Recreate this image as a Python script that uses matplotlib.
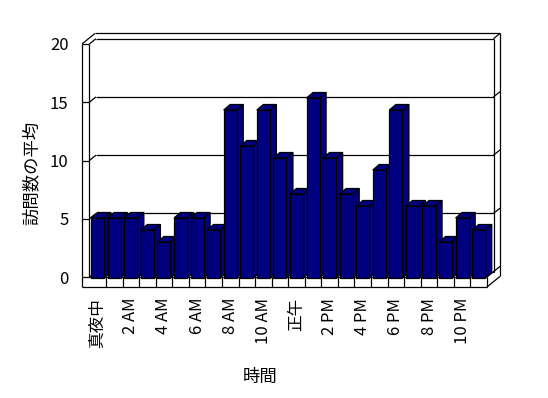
import matplotlib
matplotlib.use("Agg")
import matplotlib.pyplot as plt
from matplotlib.patches import Polygon

plt.rcParams['font.family'] = ['Noto Sans CJK JP', 'DejaVu Sans']

# ---- data ----
values = [5, 5, 5, 4, 3, 5, 5, 4, 14, 11, 14, 10, 7, 15, 10, 7, 6, 9, 14, 6, 6, 3, 5, 4]
tick_labels = ["真夜中", "2 AM", "4 AM", "6 AM", "8 AM", "10 AM", "正午",
               "2 PM", "4 PM", "6 PM", "8 PM", "10 PM"]
y_ticks = [0, 5, 10, 15, 20]
y_label = "訪問数の平均"
x_label = "時間"

W, H = 548, 398
fig = plt.figure(figsize=(W / 100, H / 100), dpi=100)

# front plane of the box (pixel geometry)
x0p, x1p = 89.4, 487.0
ytop, ybot = 44.0, 277.0
n = len(values)
ymax = 20

ax = fig.add_axes([x0p / W, (H - ybot) / H, (x1p - x0p) / W, (ybot - ytop) / H])
ax.set_xlim(0, n)
ax.set_ylim(0, ymax)
for s in ax.spines.values():
    s.set_visible(False)
ax.set_facecolor('none')

sx = n / (x1p - x0p)
sy = ymax / (ybot - ytop)
Dx, Dy = 6.5 * sx, 5.3 * sy          # depth offset
Wx = 7.4 * sx                        # wall thickness
F = 10 * sy                          # floor thickness

lw = 0.9
kw = dict(color='black', lw=lw, clip_on=False, solid_capstyle='butt')

def L(xs, ys, z=2):
    ax.plot(xs, ys, zorder=z, **kw)

# back wall front face
L([Dx, n + Dx], [ymax + Dy, ymax + Dy])
L([-Wx + 2 * Dx, n + 2 * Dx], [ymax + 2 * Dy, ymax + 2 * Dy])
L([n + Dx, n + 2 * Dx], [ymax + Dy, ymax + 2 * Dy])
L([n + Dx, n + Dx], [Dy, ymax + Dy])
L([n + 2 * Dx, n + 2 * Dx], [-F + 2 * Dy, ymax + 2 * Dy])
for v in y_ticks:
    if 0 < v < ymax:
        L([Dx, n + Dx], [v + Dy, v + Dy])
        L([n + Dx, n + 2 * Dx], [v + Dy, v + 2 * Dy])
    # diagonal on left wall inner face
    L([0, Dx], [v, v + Dy])
    # tick across wall front face
    L([-Wx, 0], [v, v])

# left wall
L([-Wx, -Wx], [-F, ymax])
L([0, 0], [0, ymax])
L([-Wx, -Wx + 2 * Dx], [ymax, ymax + 2 * Dy])
# floor
L([Dx, n + Dx], [Dy, Dy])
L([-Wx, n], [-F, -F])
L([0, n], [0, 0])
L([n, n], [-F, 0])
L([n, n + 2 * Dx], [0, 2 * Dy])
L([n, n + 2 * Dx], [-F, -F + 2 * Dy])
for i in range(1, n):
    L([i, i], [-F, 0])

ax.set_xticks([i + 0.5 for i in range(0, n, 2)])
ax.set_xticklabels(tick_labels, rotation=90, fontsize=12)
ax.set_yticks(y_ticks)
ax.set_yticklabels([str(v) for v in y_ticks], fontsize=12)
ax.tick_params(axis='x', length=0, pad=15)
ax.tick_params(axis='y', length=0, pad=15)

# bars axes (bar front plane)
b0, b1 = 278.0, 38.0
axb = fig.add_axes([x0p / W, (H - b0) / H, (x1p - x0p) / W, (b0 - b1) / H])
axb.set_xlim(0, n)
axb.set_ylim(0, ymax)
axb.axis('off')
syb = ymax / (b0 - b1)
bDx, bDy = 6.5 * sx, 5.5 * syb
bw = 0.79
navy = '#000080'
for i, v in enumerate(values):
    xl = i + 0.5 - bw / 2
    xr = xl + bw
    z = 3 + i * 0.01
    side = Polygon([(xr, 0), (xr, v), (xr + bDx, v + bDy), (xr + bDx, bDy)],
                   closed=True, facecolor=navy, edgecolor='black', lw=lw, zorder=z, clip_on=False)
    top = Polygon([(xl, v), (xr, v), (xr + bDx, v + bDy), (xl + bDx, v + bDy)],
                  closed=True, facecolor=navy, edgecolor='black', lw=lw, zorder=z, clip_on=False)
    axb.add_patch(side)
    axb.add_patch(top)
    axb.bar(i + 0.5, v, width=bw, color=navy, edgecolor='black', lw=lw, zorder=z + 0.001, clip_on=False)

fig.text(32 / W, 1 - 173 / H, y_label, rotation=90, ha='center', va='center', fontsize=12.5)
fig.text(260 / W, 1 - 377 / H, x_label, ha='center', va='center', fontsize=12.5)

fig.savefig('out.png', dpi=100, facecolor='white')
